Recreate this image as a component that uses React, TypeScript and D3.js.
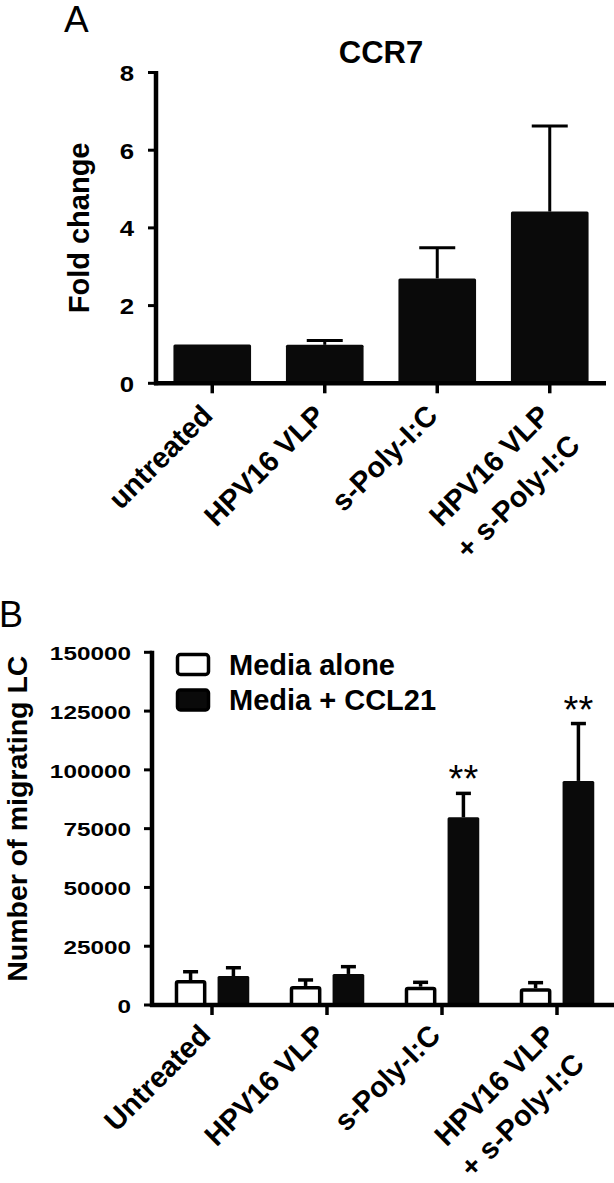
import React from 'react'
import { scaleLinear, scaleBand } from 'd3'

const W = 614
const H = 1183
const FONT = '"Liberation Sans", Arial, Helvetica, sans-serif'

// panel A - CCR7 fold change
const groupsA = ['untreated', 'HPV16 VLP', 's-Poly-I:C', 'HPV16 VLP + s-Poly-I:C']
const labelsA = [['untreated'], ['HPV16 VLP'], ['s-Poly-I:C'], ['HPV16 VLP', '+ s-Poly-I:C']]
const foldChange = [1.0, 0.99, 2.7, 4.42]
const foldChangeErr = [0, 0.11, 0.79, 2.2]
const ticksA = [0, 2, 4, 6, 8]

// panel B - migrating LC
const groupsB = ['Untreated', 'HPV16 VLP', 's-Poly-I:C', 'HPV16 VLP + s-Poly-I:C']
const labelsB = [['Untreated'], ['HPV16 VLP'], ['s-Poly-I:C'], ['HPV16 VLP', '+ s-Poly-I:C']]
const seriesB = ['Media alone', 'Media + CCL21']
const mediaAlone = [10600, 8100, 7800, 7100]
const mediaAloneErr = [3550, 2550, 1850, 2400]
const mediaCCL21 = [12300, 13200, 79800, 95300]
const mediaCCL21Err = [3550, 3100, 10200, 24400]
const starsB = ['', '', '**', '**']
const ticksB = [0, 25000, 50000, 75000, 100000, 125000, 150000]

const App = () => {
  // --- panel A scales
  const yA = scaleLinear().domain([0, 8]).range([383.3, 72.5])
  const xA = scaleBand<string>().domain(groupsA).range([156, 606]).paddingInner(0.31).paddingOuter(0.155)
  const axisA = { x: 156, y: 383.3 }

  // --- panel B scales
  const yB = scaleLinear().domain([0, 150000]).range([1005, 652.3])
  const xB = scaleBand<string>().domain(groupsB).range([154.5, 614.5]).paddingInner(0.352).paddingOuter(0.176)
  const xSub = scaleBand<string>().domain(seriesB).range([0, xB.bandwidth()]).paddingInner(0.26)
  const axisB = { x: 152, y: 1005 }
  const valsB = [mediaAlone, mediaCCL21]
  const errsB = [mediaAloneErr, mediaCCL21Err]

  return (
    <svg width={W} height={H} style={{ position: 'absolute', left: 0, top: 0, background: '#fff' }} fontFamily={FONT}>
      {/* ---------- Panel A ---------- */}
      <text x={64} y={32} fontSize={37}>A</text>
      <text x={381} y={63} fontSize={31} fontWeight="bold" textAnchor="middle">CCR7</text>
      <text transform={`translate(88.5,${(yA(8) + yA(0)) / 2}) rotate(-90)`} fontSize={29} fontWeight="bold" textAnchor="middle">Fold change</text>

      {foldChange.map((v, i) => {
        const g = groupsA[i]
        const x0 = xA(g)!
        const bw = xA.bandwidth()
        const cx = x0 + bw / 2
        const e = foldChangeErr[i]
        return (
          <g key={g}>
            {e > 0 && (
              <g stroke="#000" strokeWidth={3}>
                <line x1={cx} x2={cx} y1={yA(v)} y2={yA(v + e)} />
                <line x1={cx - 18} x2={cx + 18} y1={yA(v + e)} y2={yA(v + e)} />
              </g>
            )}
            <rect x={x0} y={yA(v)} width={bw} height={yA(0) - yA(v)} fill="#0a0a0a" rx={1.5} />
          </g>
        )
      })}

      {/* y axis A */}
      <line x1={axisA.x} x2={axisA.x} y1={yA(8) - 1.5} y2={axisA.y + 2} stroke="#000" strokeWidth={4.5} />
      {ticksA.map(t => (
        <g key={t}>
          <line x1={axisA.x - 8} x2={axisA.x} y1={yA(t)} y2={yA(t)} stroke="#000" strokeWidth={3} />
          <text transform={`translate(134,${yA(t) + 8.3}) scale(1.2,1)`} fontSize={21.5} fontWeight="bold" textAnchor="end">{t}</text>
        </g>
      ))}
      {/* x axis A */}
      <line x1={axisA.x - 2} x2={606} y1={axisA.y} y2={axisA.y} stroke="#000" strokeWidth={4.5} />
      {groupsA.map((g, i) => {
        const cx = xA(g)! + xA.bandwidth() / 2
        return (
          <g key={g}>
            <line x1={cx} x2={cx} y1={axisA.y} y2={axisA.y + 10} stroke="#000" strokeWidth={3.5} />
            <text transform={`translate(${cx + 2},${axisA.y + 34}) rotate(-45)`} fontSize={29} fontWeight="bold" textAnchor="end">
              {labelsA[i].map((l, j) => (
                <tspan key={j} x={0} dy={j === 0 ? 0 : '1.45em'}>{l}</tspan>
              ))}
            </text>
          </g>
        )
      })}

      {/* ---------- Panel B ---------- */}
      <text x={-1} y={626.5} fontSize={36}>B</text>
      <text transform={`translate(26.5,${(yB(150000) + yB(0)) / 2 - 10}) rotate(-90)`} fontSize={28.5} fontWeight="bold" textAnchor="middle">Number of migrating LC</text>

      {groupsB.map((g, i) => {
        const gx = xB(g)!
        return (
          <g key={g}>
            {seriesB.map((s, k) => {
              const v = valsB[k][i]
              const e = errsB[k][i]
              const bx = gx + xSub(s)!
              const bw = xSub.bandwidth()
              const cx = bx + bw / 2
              const filled = k === 1
              return (
                <g key={s}>
                  <g stroke="#000" strokeWidth={3.5}>
                    <line x1={cx} x2={cx} y1={yB(v)} y2={yB(v + e)} />
                    <line x1={cx - 7.5} x2={cx + 7.5} y1={yB(v + e)} y2={yB(v + e)} />
                  </g>
                  {filled ? (
                    <rect x={bx} y={yB(v)} width={bw} height={yB(0) - yB(v)} fill="#0a0a0a" rx={1.5} />
                  ) : (
                    <rect x={bx + 1.75} y={yB(v) + 1.75} width={bw - 3.5} height={yB(0) - yB(v) - 1.75} fill="#fff" stroke="#000" strokeWidth={3.5} rx={1.5} />
                  )}
                  {filled && starsB[i] && (
                    <text x={cx} y={yB(v + e) - 1} fontSize={38} textAnchor="middle">{starsB[i]}</text>
                  )}
                </g>
              )
            })}
          </g>
        )
      })}

      {/* y axis B */}
      <line x1={axisB.x} x2={axisB.x} y1={yB(150000) - 1.5} y2={axisB.y + 2} stroke="#000" strokeWidth={4.5} />
      {ticksB.map(t => (
        <g key={t}>
          <line x1={axisB.x - 8} x2={axisB.x} y1={yB(t)} y2={yB(t)} stroke="#000" strokeWidth={3} />
          <text transform={`translate(131,${yB(t) + 7.8}) scale(1.28,1)`} fontSize={19} fontWeight="bold" textAnchor="end">{t}</text>
        </g>
      ))}
      {/* x axis B */}
      <line x1={axisB.x - 2} x2={614} y1={axisB.y} y2={axisB.y} stroke="#000" strokeWidth={4.5} />
      {groupsB.map((g, i) => {
        const cx = xB(g)! + xB.bandwidth() / 2
        return (
          <g key={g}>
            <line x1={cx} x2={cx} y1={axisB.y} y2={axisB.y + 10} stroke="#000" strokeWidth={3.5} />
            <text transform={`translate(${cx},${axisB.y + 32}) rotate(-45)`} fontSize={29} fontWeight="bold" textAnchor="end">
              {labelsB[i].map((l, j) => (
                <tspan key={j} x={0} dy={j === 0 ? 0 : '1.4em'}>{l}</tspan>
              ))}
            </text>
          </g>
        )
      })}

      {/* legend */}
      {seriesB.map((s, k) => (
        <g key={s}>
          <rect x={177.5} y={654.5 + k * 35.5} width={31} height={20} rx={3} fill={k === 0 ? '#fff' : '#0a0a0a'} stroke="#000" strokeWidth={3.5} />
          <text x={229} y={675 + k * 35} fontSize={29} fontWeight="bold">{s}</text>
        </g>
      ))}
    </svg>
  )
}

export default App
